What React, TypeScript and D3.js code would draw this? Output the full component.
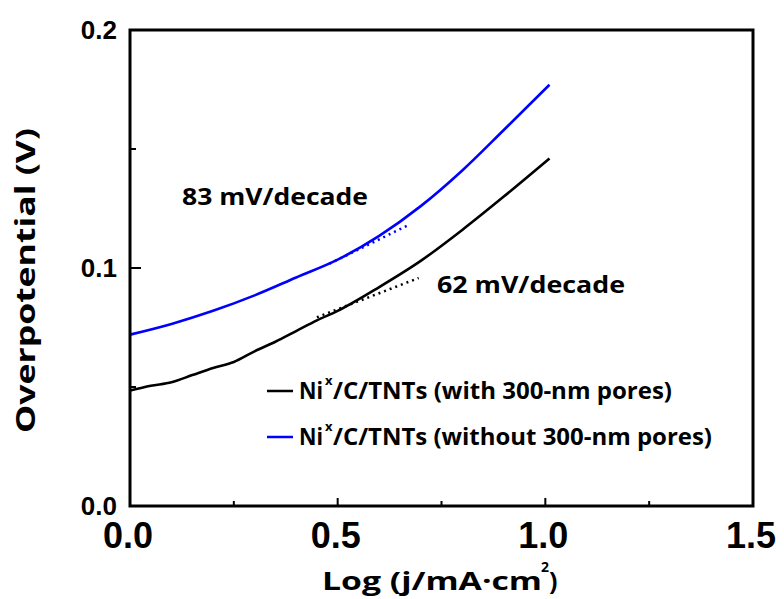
import React from "react";
import * as d3 from "d3";

const blackX = [0, 0.05, 0.1, 0.15, 0.2, 0.25, 0.3, 0.35, 0.4, 0.45, 0.5, 0.6, 0.7, 0.8, 0.9, 1.01];
const blackY = [0.0485, 0.0505, 0.052, 0.055, 0.058, 0.0605, 0.065, 0.069, 0.0735, 0.078, 0.082, 0.092, 0.103, 0.116, 0.13, 0.146];
const blueX = [0, 0.1, 0.2, 0.3, 0.4, 0.5, 0.6, 0.7, 0.8, 0.9, 1.01];
const blueY = [0.072, 0.0765, 0.082, 0.0885, 0.096, 0.1035, 0.1135, 0.126, 0.141, 0.158, 0.177];
const blackFitX = [0.45, 0.695];
const blackFitY = [0.0793, 0.0958];
const blueFitX = [0.48, 0.67];
const blueFitY = [0.1018, 0.118];
const xTicks = [0, 0.5, 1.0, 1.5];
const xMinor = [0.25, 0.75, 1.25];
const yTicks = [0, 0.1, 0.2];
const yMinor = [0.05, 0.15];
const legendLabels = ["/C/TNTs (with 300-nm pores)", "/C/TNTs (without 300-nm pores)"];
const legendWidths = [339, 379];
const legendColors = ["#000000", "#0000ff"];

export default function App() {
  const left = 130, right = 753, top = 30, bottom = 506;
  const x = d3.scaleLinear().domain([0, 1.5]).range([left, right]);
  const y = d3.scaleLinear().domain([0, 0.2]).range([bottom, top]);
  const line = d3.line<[number, number]>().x(d => x(d[0])).y(d => y(d[1])).curve(d3.curveMonotoneX);
  const zip = (a: number[], b: number[]) => a.map((v, i) => [v, b[i]] as [number, number]);
  const sans = "'Open Sans', Lato, sans-serif";
  const arial = "'Liberation Sans', Arial, sans-serif";
  return (
    <svg width={784} height={599} style={{ display: "block", position: "absolute", left: 0, top: 0 }}>
      <rect width={784} height={599} fill="#fff" />
      {/* curves */}
      <path d={line(zip(blackX, blackY)) || ""} fill="none" stroke="#000" strokeWidth={2.6} />
      <path d={line(zip(blueX, blueY)) || ""} fill="none" stroke="#0000ff" strokeWidth={2.6} />
      <path d={line(zip(blackFitX, blackFitY)) || ""} fill="none" stroke="#000" strokeWidth={2.5} strokeDasharray="2 4" />
      <path d={line(zip(blueFitX, blueFitY)) || ""} fill="none" stroke="#0000ff" strokeWidth={2.5} strokeDasharray="2 4" />
      {/* frame */}
      <rect x={left} y={top} width={right - left} height={bottom - top} fill="none" stroke="#000" strokeWidth={3} />
      {/* x ticks */}
      {xTicks.map(t => (
        <g key={"xt" + t}>
          <line x1={x(t)} x2={x(t)} y1={bottom} y2={bottom - 8} stroke="#000" strokeWidth={2} />
          <text x={x(t) - 2} y={548} textAnchor="middle" fontFamily={arial} fontWeight="bold" fontSize={36}>{t.toFixed(1)}</text>
        </g>
      ))}
      {xMinor.map(t => (
        <line key={"xm" + t} x1={x(t)} x2={x(t)} y1={bottom} y2={bottom - 5} stroke="#000" strokeWidth={2} />
      ))}
      {yTicks.map(t => (
        <g key={"yt" + t}>
          <line x1={left} x2={left + 11} y1={y(t)} y2={y(t)} stroke="#000" strokeWidth={2} />
          <text x={117} y={y(t) + 9} textAnchor="end" fontFamily={arial} fontWeight="bold" fontSize={26}>{t.toFixed(1)}</text>
        </g>
      ))}
      {yMinor.map(t => (
        <line key={"ym" + t} x1={left} x2={left + 6} y1={y(t)} y2={y(t)} stroke="#000" strokeWidth={2} />
      ))}
      {/* axis titles */}
      <text x={322} y={590} fontFamily={sans} fontWeight="bold" fontSize={25} textLength={220} lengthAdjust="spacingAndGlyphs">Log (j/mA·cm</text>
      <text x={541} y={572} fontFamily={sans} fontWeight="bold" fontSize={14}>2</text>
      <text x={549} y={590} fontFamily={sans} fontWeight="bold" fontSize={25}>)</text>
      <text transform="translate(35,433) rotate(-90)" fontFamily={sans} fontWeight="bold" fontSize={26} textLength={305} lengthAdjust="spacingAndGlyphs">
        Overpotential (V)
      </text>
      {/* annotations */}
      <text x={182} y={205} fontFamily={sans} fontWeight="bold" fontSize={24} textLength={186} lengthAdjust="spacingAndGlyphs">83 mV/decade</text>
      <text x={437} y={293} fontFamily={sans} fontWeight="bold" fontSize={24} textLength={188} lengthAdjust="spacingAndGlyphs">62 mV/decade</text>
      {/* legend */}
      {legendLabels.map((lab, i) => (
        <g key={lab}>
          <line x1={267} x2={293} y1={391 + i * 46} y2={391 + i * 46} stroke={legendColors[i]} strokeWidth={2.5} />
          <text x={299} y={399 + i * 46} fontFamily={sans} fontWeight="bold" fontSize={24} textLength={24} lengthAdjust="spacingAndGlyphs">Ni</text>
          <text x={325} y={385 + i * 46} fontFamily={sans} fontWeight="bold" fontSize={13}>x</text>
          <text x={333} y={399 + i * 46} fontFamily={sans} fontWeight="bold" fontSize={24} textLength={legendWidths[i]} lengthAdjust="spacingAndGlyphs">{lab}</text>
        </g>
      ))}
    </svg>
  );
}
